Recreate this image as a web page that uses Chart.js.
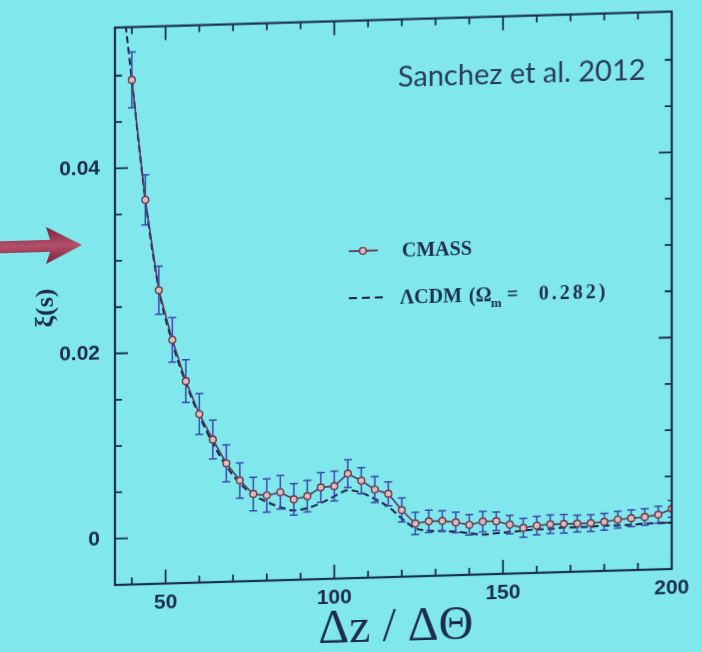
<!DOCTYPE html>
<html>
<head>
<meta charset="utf-8">
<title>ξ(s) CMASS</title>
<script src="https://cdn.jsdelivr.net/npm/chart.js@4.4.1/dist/chart.umd.min.js"></script>
<style>
  html, body { margin: 0; padding: 0; width: 702px; height: 652px; overflow: hidden; background: #80e8ed; }
  #slide { position: absolute; left: 0; top: 0; width: 702px; height: 652px;
           transform-origin: 115px 0; transform: skewY(-1.65deg); }
  canvas { display: block; }
</style>
</head>
<body>
<div id="slide"><canvas id="xi" width="702" height="652"></canvas></div>
<script>
// Pair separation bins (Mpc/h)
const sepBins = [40, 44, 48, 52, 56, 60, 64, 68, 72, 76,
                 80, 84, 88, 92, 96, 100, 104, 108, 112, 116,
                 120, 124, 128, 132, 136, 140, 144, 148, 152, 156,
                 160, 164, 168, 172, 176, 180, 184, 188, 192, 196, 200];

// Measured CMASS correlation function
const xiCmass = [0.0495, 0.0365, 0.0267, 0.0213, 0.0168, 0.0132, 0.0104, 0.0078, 0.0059, 0.0044,
                 0.0042, 0.0045, 0.0037, 0.0040, 0.0049, 0.0050, 0.0063, 0.0055, 0.0045, 0.0040,
                 0.0022, 0.0007, 0.0009, 0.0009, 0.0007, 0.0004, 0.0007, 0.0007, 0.0003, -0.0001,
                 0.0001, 0.0002, 0.0002, 0.0002, 0.0002, 0.0003, 0.0005, 0.0006, 0.0007, 0.0009,
                 0.0015];

// 1-sigma errors on the measurement
const xiErr = [0.0030, 0.0027, 0.0026, 0.0024, 0.0023, 0.0022, 0.0021, 0.0020, 0.0019, 0.0018,
               0.0018, 0.0018, 0.0017, 0.0017, 0.0016, 0.0016, 0.0015, 0.0014, 0.0014, 0.0013,
               0.0013, 0.0012, 0.0012, 0.0011, 0.0011, 0.0011, 0.0011, 0.0010, 0.0010, 0.0010,
               0.0010, 0.0010, 0.0010, 0.0009, 0.0009, 0.0009, 0.0009, 0.0009, 0.0009, 0.0009,
               0.0009];

// Best-fit LCDM model curve (Omega_m = 0.282)
const modelS = [36, 40, 44, 48, 52, 56, 60, 64, 68, 72, 76,
                80, 84, 88, 92, 96, 100, 104, 108, 112, 116,
                120, 124, 128, 132, 136, 140, 144, 148, 152, 156,
                160, 164, 168, 172, 176, 180, 184, 188, 192, 196, 200];
const xiModel = [0.0625, 0.0495, 0.0365, 0.0268, 0.0210, 0.0166, 0.0130, 0.0100, 0.0075, 0.0056, 0.0043,
                 0.0035, 0.0029, 0.0025, 0.0027, 0.0032, 0.0039, 0.0045, 0.0042, 0.0035, 0.0026,
                 0.0013, 0.0002, -0.0001, -0.0002, -0.0003, -0.0005, -0.0007, -0.0006, -0.0005, -0.0004,
                 -0.0003, -0.0003, -0.0002, -0.0002, -0.0002, -0.0001, -0.0001, -0.0001, 0.0000, 0.0000, 0.0000];

// Axis ticks
const xTicks = [40, 50, 60, 70, 80, 90, 100, 110, 120, 130, 140, 150, 160, 170, 180, 190, 200];
const xMajorTicks = [50, 100, 150, 200];
const xMajorLabels = ['50', '100', '150', '200'];
const yTicks = [0, 0.005, 0.01, 0.015, 0.02, 0.025, 0.03, 0.035, 0.04, 0.045, 0.05];
const yMajorTicks = [0, 0.02, 0.04];
const yMajorLabels = ['0', '0.02', '0.04'];

const INK = '#1b3050';
const TEXT = '#1d2c4c';
const DATA_LINE = '#553a63';
const POINT_FILL = '#d9bfbc';
const POINT_EDGE = '#6c3649';
const BAR_COLOR = '#3b48a8';
const MODEL_COLOR = '#1a1f3e';
const LEGEND_FONT = 'bold 20px "Liberation Serif"';

const findMajor = (list, v) => list.findIndex(t => Math.abs(t - v) < 1e-9);

function drawErrorBars(chart) {
  const { ctx, chartArea: a, scales: { x, y } } = chart;
  ctx.save();
  ctx.beginPath();
  ctx.rect(a.left, a.top, a.right - a.left, a.bottom - a.top);
  ctx.clip();
  ctx.strokeStyle = BAR_COLOR;
  ctx.lineWidth = 1.5;
  sepBins.forEach((s, i) => {
    const px = x.getPixelForValue(s);
    const hi = y.getPixelForValue(xiCmass[i] + xiErr[i]);
    const lo = y.getPixelForValue(xiCmass[i] - xiErr[i]);
    ctx.beginPath();
    ctx.moveTo(px, hi); ctx.lineTo(px, lo);
    ctx.moveTo(px - 4, hi); ctx.lineTo(px + 4, hi);
    ctx.moveTo(px - 4, lo); ctx.lineTo(px + 4, lo);
    ctx.stroke();
  });
  ctx.restore();
}

function drawFrame(chart) {
  const { ctx, chartArea: a, scales: { x, y } } = chart;
  ctx.save();
  ctx.strokeStyle = INK;
  ctx.lineWidth = 2.2;
  ctx.strokeRect(a.left, a.top, a.right - a.left, a.bottom - a.top);
  ctx.lineWidth = 1.8;
  ctx.beginPath();
  x.ticks.forEach(t => {
    const len = findMajor(xMajorTicks, t.value) >= 0 ? 14 : 7;
    const px = x.getPixelForValue(t.value);
    ctx.moveTo(px, a.bottom); ctx.lineTo(px, a.bottom - len);
    ctx.moveTo(px, a.top); ctx.lineTo(px, a.top + len);
  });
  y.ticks.forEach(t => {
    const len = findMajor(yMajorTicks, t.value) >= 0 ? 13 : 7;
    const py = y.getPixelForValue(t.value);
    ctx.moveTo(a.left, py); ctx.lineTo(a.left + len, py);
    ctx.moveTo(a.right, py); ctx.lineTo(a.right - len, py);
  });
  ctx.stroke();
  ctx.restore();
}

function drawLegend(chart) {
  const { ctx } = chart;
  ctx.save();
  // CMASS entry
  ctx.strokeStyle = POINT_EDGE;
  ctx.lineWidth = 1.8;
  ctx.beginPath(); ctx.moveTo(349, 258); ctx.lineTo(378, 258); ctx.stroke();
  ctx.beginPath(); ctx.arc(363, 258, 3.4, 0, Math.PI * 2);
  ctx.fillStyle = POINT_FILL; ctx.fill();
  ctx.lineWidth = 1.4; ctx.stroke();
  ctx.fillStyle = TEXT;
  ctx.textBaseline = 'alphabetic';
  ctx.textAlign = 'left';
  ctx.font = LEGEND_FONT;
  ctx.fillText(chart.data.datasets[0].label, 402, 265);
  // model entry
  ctx.setLineDash([8, 5]);
  ctx.strokeStyle = MODEL_COLOR;
  ctx.lineWidth = 2;
  ctx.beginPath(); ctx.moveTo(349, 305); ctx.lineTo(385, 305); ctx.stroke();
  ctx.setLineDash([]);
  ctx.fillText('ΛCDM', 400, 312);
  ctx.fillText('(Ω', 469, 312);
  ctx.font = 'bold 13px "Liberation Serif"';
  ctx.fillText('m', 491, 318);
  ctx.font = LEGEND_FONT;
  ctx.fillText('=', 507, 312);
  ctx.letterSpacing = '3px';
  ctx.fillText('0.282)', 539, 312);
  ctx.letterSpacing = '0px';
  ctx.restore();
}

function drawAnnotations(chart) {
  const { ctx } = chart;
  ctx.save();
  // citation
  ctx.fillStyle = '#283a5c';
  ctx.font = '29px Lato';
  ctx.textAlign = 'left';
  ctx.textBaseline = 'alphabetic';
  ctx.fillText('Sanchez et al. 2012', 398, 95);
  // axis titles
  ctx.fillStyle = TEXT;
  ctx.font = '48px "Liberation Serif"';
  ctx.textAlign = 'center';
  ctx.fillText('Δz / ΔΘ', 396, 649);
  ctx.save();
  ctx.translate(46, 306);
  ctx.rotate(-Math.PI / 2);
  ctx.font = 'bold 26px "Liberation Serif"';
  ctx.textBaseline = 'middle';
  ctx.fillText('ξ(s)', 0, 0);
  ctx.restore();
  // pointer arrow at the left edge
  const g = ctx.createLinearGradient(0, 225, 0, 262);
  g.addColorStop(0, '#7a1f37');
  g.addColorStop(0.5, '#b3506b');
  g.addColorStop(1, '#7a1f37');
  ctx.fillStyle = g;
  ctx.beginPath();
  ctx.moveTo(0, 238);
  ctx.lineTo(50, 238);
  ctx.lineTo(46, 225);
  ctx.lineTo(82, 244);
  ctx.lineTo(46, 262);
  ctx.lineTo(50, 250);
  ctx.lineTo(0, 250);
  ctx.closePath();
  ctx.fill();
  ctx.restore();
}

const slidePlugin = {
  id: 'slidePlugin',
  beforeDatasetDraw(chart, args) {
    if (args.index === 0) drawErrorBars(chart);
  },
  afterDraw(chart) {
    drawFrame(chart);
    drawLegend(chart);
    drawAnnotations(chart);
  }
};

const tickFont = { family: '"Liberation Sans", Arial, sans-serif', size: 21, weight: 'bold' };

new Chart(document.getElementById('xi'), {
  type: 'line',
  data: {
    datasets: [
      {
        label: 'CMASS',
        data: sepBins.map((s, i) => ({ x: s, y: xiCmass[i] })),
        borderColor: DATA_LINE,
        borderWidth: 1.6,
        pointRadius: 3.4,
        pointBackgroundColor: POINT_FILL,
        pointBorderColor: POINT_EDGE,
        pointBorderWidth: 1.4,
        tension: 0,
        order: 0
      },
      {
        label: 'ΛCDM (Ωm = 0.282)',
        data: modelS.map((s, i) => ({ x: s, y: xiModel[i] })),
        borderColor: MODEL_COLOR,
        borderWidth: 2,
        borderDash: [7, 4],
        pointRadius: 0,
        cubicInterpolationMode: 'monotone',
        order: 1
      }
    ]
  },
  options: {
    responsive: false,
    animation: false,
    devicePixelRatio: 1,
    events: [],
    layout: { padding: { left: 0, right: 30, top: 23, bottom: 0 } },
    plugins: { legend: { display: false }, tooltip: { enabled: false } },
    scales: {
      x: {
        type: 'linear',
        min: 35,
        max: 200,
        afterBuildTicks: s => { s.ticks = xTicks.map(v => ({ value: v })); },
        afterFit: s => { s.height = 67; },
        grid: { display: false, drawTicks: false },
        border: { display: false },
        ticks: {
          autoSkip: false,
          maxRotation: 0,
          padding: 7,
          color: TEXT,
          font: tickFont,
          callback: v => { const k = findMajor(xMajorTicks, v); return k >= 0 ? xMajorLabels[k] : ''; }
        }
      },
      y: {
        type: 'linear',
        min: -0.005,
        max: 0.0552,
        afterBuildTicks: s => { s.ticks = yTicks.map(v => ({ value: v })); },
        afterFit: s => { s.width = 115; },
        grid: { display: false, drawTicks: false },
        border: { display: false },
        ticks: {
          autoSkip: false,
          padding: 15,
          color: TEXT,
          font: tickFont,
          callback: v => { const k = findMajor(yMajorTicks, v); return k >= 0 ? yMajorLabels[k] : ''; }
        }
      }
    }
  },
  plugins: [slidePlugin]
});
</script>
</body>
</html>
